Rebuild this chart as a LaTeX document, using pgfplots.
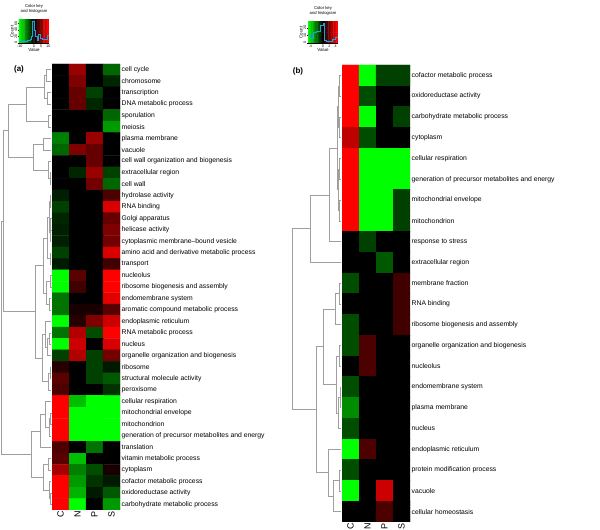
\documentclass[border=0pt]{standalone}
\usepackage{fontspec}
\setmainfont{Liberation Sans}
\usepackage{pgfplots}
\pgfplotsset{compat=1.18}
\pgfplotsset{
  hm/.style={scale only axis, enlargelimits=false,
    axis line style={draw=none}, major tick length=0pt,
    xtick={0,1,2,3}, xticklabels={C,N,P,S},
    xticklabel style={rotate=90, anchor=east, font=\fontsize{9}{9}\selectfont, inner sep=1pt},
    yticklabel pos=right,
    yticklabel style={anchor=west, font=\fontsize{6.8}{7}\selectfont, inner sep=1.5pt},
    colormap={rg}{rgb255=(0,255,0) rgb255=(0,0,0) rgb255=(255,0,0)},
    point meta min=-1, point meta max=1},
  key/.style={scale only axis, axis lines*=left, tick align=outside,
    major tick length=1.2pt, every tick/.style={black, line width=0.3pt},
    axis line style={line width=0.3pt},
    tick label style={font=\fontsize{3.6}{4}\selectfont, inner sep=0.5pt},
    label style={font=\fontsize{4.5}{5}\selectfont, inner sep=0.3pt},
    title style={font=\fontsize{4.2}{4.6}\selectfont, align=center, inner sep=0.5pt},
    /pgf/number format/assume math mode=true,
    colormap={rg}{rgb255=(0,255,0) rgb255=(0,0,0) rgb255=(255,0,0)},
    yticklabel style={rotate=90, anchor=south},
    xlabel shift=0pt, ylabel shift=0pt}
}
\begin{document}
\begin{tikzpicture}
\path[use as bounding box] (0,0) rectangle (600pt,530pt);

% ---------- base axis in pixel units: dendrograms and panel letters
\begin{axis}[at={(0pt,0pt)}, anchor=south west, x=1pt, y=1pt,
  xmin=0, xmax=600, ymin=0, ymax=530, y dir=reverse, hide axis, clip=false,
  unbounded coords=jump]
\addplot[gray!75, line width=0.5pt] coordinates {
(51,69.7)(46,69.7)(46,81.2)(51,81.2) (nan,nan)
(51,92.6)(47,92.6)(47,104.0)(51,104.0) (nan,nan)
(46,75.45)(44,75.45)(44,98.3)(47,98.3) (nan,nan)
(51,115.5)(48,115.5)(48,126.9)(51,126.9) (nan,nan)
(44,86.9)(26,86.9)(26,121.2)(48,121.2) (nan,nan)
(51,138.4)(43,138.4)(43,149.8)(51,149.8) (nan,nan)
(51,172.7)(50,172.7)(50,184.1)(51,184.1) (nan,nan)
(51,161.2)(48,161.2)(48,178.4)(50,178.4) (nan,nan)
(43,144.1)(33,144.1)(33,169.8)(48,169.8) (nan,nan)
(26,104.05)(8,104.05)(8,156.95)(33,156.95) (nan,nan)
(51,195.6)(50,195.6)(50,207.0)(51,207.0) (nan,nan)
(51,218.4)(50.5,218.4)(50.5,229.9)(51,229.9) (nan,nan)
(50.5,224.15)(50,224.15)(50,241.3)(51,241.3) (nan,nan)
(50,201.3)(49,201.3)(49,232.7)(50,232.7) (nan,nan)
(51,252.8)(50,252.8)(50,264.2)(51,264.2) (nan,nan)
(49,217.0)(47,217.0)(47,258.5)(50,258.5) (nan,nan)
(51,275.6)(50.5,275.6)(50.5,287.1)(51,287.1) (nan,nan)
(51,298.5)(49.5,298.5)(49.5,310.0)(51,310.0) (nan,nan)
(50.5,281.35)(46,281.35)(46,304.25)(49.5,304.25) (nan,nan)
(47,237.75)(43,237.75)(43,292.8)(46,292.8) (nan,nan)
(51,332.8)(49.5,332.8)(49.5,344.3)(51,344.3) (nan,nan)
(49.5,338.55)(47,338.55)(47,355.7)(51,355.7) (nan,nan)
(51,321.4)(45.5,321.4)(45.5,347.1)(47,347.1) (nan,nan)
(51,367.2)(50,367.2)(50,378.6)(51,378.6) (nan,nan)
(50,372.9)(48.5,372.9)(48.5,390.0)(51,390.0) (nan,nan)
(45.5,334.25)(42,334.25)(42,381.45)(48.5,381.45) (nan,nan)
(43,265.3)(35,265.3)(35,357.85)(42,357.85) (nan,nan)
(51,412.9)(50.5,412.9)(50.5,424.4)(51,424.4) (nan,nan)
(50.5,418.65)(49.5,418.65)(49.5,435.8)(51,435.8) (nan,nan)
(51,401.5)(45,401.5)(45,427.2)(49.5,427.2) (nan,nan)
(45,414.35)(40,414.35)(40,447.2)(51,447.2) (nan,nan)
(51,458.7)(48,458.7)(48,470.1)(51,470.1) (nan,nan)
(51,493.0)(50.5,493.0)(50.5,504.4)(51,504.4) (nan,nan)
(51,481.6)(49.5,481.6)(49.5,498.7)(50.5,498.7) (nan,nan)
(48,464.4)(43,464.4)(43,490.15)(49.5,490.15) (nan,nan)
(40,430.8)(31,430.8)(31,477.3)(43,477.3) (nan,nan)
(8,130.5)(3,130.5)(3,311.6)(35,311.6) (nan,nan)
(3,221.05)(1.5,221.05)(1.5,454.05)(31,454.05)
};
\addplot[gray!75, line width=0.5pt] coordinates {
(341,75.4)(339.5,75.4)(339.5,96.2)(341,96.2) (nan,nan)
(341,116.9)(339.5,116.9)(339.5,137.7)(341,137.7) (nan,nan)
(339.5,85.8)(338,85.8)(338,127.3)(339.5,127.3) (nan,nan)
(341,158.5)(339.5,158.5)(339.5,179.2)(341,179.2) (nan,nan)
(341,200.0)(339.5,200.0)(339.5,220.8)(341,220.8) (nan,nan)
(339.5,168.85)(338.5,168.85)(338.5,210.4)(339.5,210.4) (nan,nan)
(338,106.55)(337,106.55)(337,189.6)(338.5,189.6) (nan,nan)
(337,148.1)(329,148.1)(329,241.5)(341,241.5) (nan,nan)
(329,194.8)(310,194.8)(310,262.3)(341,262.3) (nan,nan)
(341,283.1)(339,283.1)(339,303.8)(341,303.8) (nan,nan)
(339,293.45)(335,293.45)(335,324.6)(341,324.6) (nan,nan)
(341,345.4)(339.5,345.4)(339.5,366.2)(341,366.2) (nan,nan)
(341,386.9)(340,386.9)(340,407.7)(341,407.7) (nan,nan)
(340,397.3)(338.5,397.3)(338.5,428.5)(341,428.5) (nan,nan)
(339.5,355.8)(336,355.8)(336,412.9)(338.5,412.9) (nan,nan)
(335,309.0)(323,309.0)(323,384.35)(336,384.35) (nan,nan)
(341,470.0)(339.5,470.0)(339.5,490.8)(341,490.8) (nan,nan)
(339.5,480.4)(333,480.4)(333,511.5)(341,511.5) (nan,nan)
(341,449.2)(328,449.2)(328,495.95)(333,495.95) (nan,nan)
(323,346.7)(316,346.7)(316,472.6)(328,472.6) (nan,nan)
(310,228.55)(292,228.55)(292,409.65)(316,409.65)
};
\node[font=\bfseries\fontsize{8}{8}\selectfont] at (axis cs:19,69) {(a)};
\node[font=\bfseries\fontsize{8}{8}\selectfont] at (axis cs:298,71) {(b)};
\end{axis}

% ---------- heatmap (a)
\begin{axis}[hm, at={(52pt,466pt)}, anchor=north west, width=68pt, height=446pt,
  xmin=-0.5, xmax=3.5, ymin=-39.5, ymax=-0.5,
  ytick={-1,-2,...,-39},
  yticklabels={cell cycle, chromosome, transcription, DNA metabolic process, sporulation, meiosis,
  plasma membrane, vacuole, cell wall organization and biogenesis, extracellular region, cell wall,
  hydrolase activity, RNA binding, Golgi apparatus, helicase activity, cytoplasmic membrane–bound vesicle,
  amino acid and derivative metabolic process, transport, nucleolus, ribosome biogenesis and assembly,
  endomembrane system, aromatic compound metabolic process, endoplasmic reticulum, RNA metabolic process,
  nucleus, organelle organization and biogenesis, ribosome, structural molecule activity, peroxisome,
  cellular respiration, mitochondrial envelope, mitochondrion, generation of precursor metabolites and energy,
  translation, vitamin metabolic process, cytoplasm, cofactor metabolic process, oxidoreductase activity,
  carbohydrate metabolic process}]
\addplot[matrix plot*, mesh/cols=4, point meta=explicit, draw=none]
table[row sep=\\, meta=c] {x y c\\
0 -1 0\\ 1 -1 0.6\\ 2 -1 0\\ 3 -1 -0.4\\
0 -2 0\\ 1 -2 0.5\\ 2 -2 0\\ 3 -2 -0.15\\
0 -3 0\\ 1 -3 0.4\\ 2 -3 -0.25\\ 3 -3 0\\
0 -4 0\\ 1 -4 0.4\\ 2 -4 -0.15\\ 3 -4 0\\
0 -5 0\\ 1 -5 0\\ 2 -5 0\\ 3 -5 -0.4\\
0 -6 0\\ 1 -6 0\\ 2 -6 0\\ 3 -6 -0.6\\
0 -7 -0.5\\ 1 -7 0\\ 2 -7 0.6\\ 3 -7 0\\
0 -8 -0.4\\ 1 -8 0.5\\ 2 -8 0.4\\ 3 -8 0\\
0 -9 0\\ 1 -9 0\\ 2 -9 0.4\\ 3 -9 0\\
0 -10 0\\ 1 -10 -0.15\\ 2 -10 0.6\\ 3 -10 -0.25\\
0 -11 0\\ 1 -11 0\\ 2 -11 0.45\\ 3 -11 -0.4\\
0 -12 -0.12\\ 1 -12 0\\ 2 -12 0\\ 3 -12 0.3\\
0 -13 -0.25\\ 1 -13 0\\ 2 -13 0\\ 3 -13 0.85\\
0 -14 -0.15\\ 1 -14 0\\ 2 -14 0\\ 3 -14 0.4\\
0 -15 -0.12\\ 1 -15 0\\ 2 -15 0\\ 3 -15 0.5\\
0 -16 -0.12\\ 1 -16 0\\ 2 -16 0\\ 3 -16 0.45\\
0 -17 -0.25\\ 1 -17 0\\ 2 -17 0\\ 3 -17 0.85\\
0 -18 -0.1\\ 1 -18 0\\ 2 -18 0\\ 3 -18 0.25\\
0 -19 -1\\ 1 -19 0.35\\ 2 -19 0\\ 3 -19 1\\
0 -20 -1\\ 1 -20 0.25\\ 2 -20 0\\ 3 -20 1\\
0 -21 -0.45\\ 1 -21 0\\ 2 -21 0\\ 3 -21 0.9\\
0 -22 -0.45\\ 1 -22 0.1\\ 2 -22 0.1\\ 3 -22 0.35\\
0 -23 -1\\ 1 -23 0.15\\ 2 -23 0.5\\ 3 -23 0.8\\
0 -24 -0.45\\ 1 -24 0.7\\ 2 -24 -0.3\\ 3 -24 1\\
0 -25 -1\\ 1 -25 0.8\\ 2 -25 0\\ 3 -25 0.85\\
0 -26 -0.25\\ 1 -26 0.7\\ 2 -26 -0.25\\ 3 -26 0.45\\
0 -27 0.15\\ 1 -27 0\\ 2 -27 -0.25\\ 3 -27 -0.1\\
0 -28 0.35\\ 1 -28 0\\ 2 -28 -0.25\\ 3 -28 -0.35\\
0 -29 0.3\\ 1 -29 0\\ 2 -29 0\\ 3 -29 -0.2\\
0 -30 1\\ 1 -30 -0.75\\ 2 -30 -1\\ 3 -30 -1\\
0 -31 1\\ 1 -31 -1\\ 2 -31 -1\\ 3 -31 -1\\
0 -32 1\\ 1 -32 -1\\ 2 -32 -1\\ 3 -32 -1\\
0 -33 1\\ 1 -33 -1\\ 2 -33 -1\\ 3 -33 -1\\
0 -34 0.3\\ 1 -34 0\\ 2 -34 -0.45\\ 3 -34 0\\
0 -35 0.35\\ 1 -35 -0.75\\ 2 -35 0\\ 3 -35 0\\
0 -36 0.65\\ 1 -36 -0.5\\ 2 -36 -0.3\\ 3 -36 0.1\\
0 -37 1\\ 1 -37 -0.6\\ 2 -37 -0.2\\ 3 -37 -0.1\\
0 -38 1\\ 1 -38 -0.7\\ 2 -38 -0.1\\ 3 -38 -0.35\\
0 -39 1\\ 1 -39 -1\\ 2 -39 0\\ 3 -39 -0.6\\
};
\end{axis}

% ---------- heatmap (b)
\begin{axis}[hm, at={(342pt,465pt)}, anchor=north west, width=68pt, height=457pt,
  xmin=-0.5, xmax=3.5, ymin=-22.5, ymax=-0.5,
  ytick={-1,-2,...,-22},
  yticklabels={cofactor metabolic process, oxidoreductase activity, carbohydrate metabolic process,
  cytoplasm, cellular respiration, generation of precursor metabolites and energy, mitochondrial envelope,
  mitochondrion, response to stress, extracellular region, membrane fraction, RNA binding,
  ribosome biogenesis and assembly, organelle organization and biogenesis, nucleolus, endomembrane system,
  plasma membrane, nucleus, endoplasmic reticulum, protein modification process, vacuole, cellular homeostasis}]
\addplot[matrix plot*, mesh/cols=4, point meta=explicit, draw=none]
table[row sep=\\, meta=c] {x y c\\
0 -1 1\\ 1 -1 -1\\ 2 -1 -0.25\\ 3 -1 -0.25\\
0 -2 1\\ 1 -2 -0.3\\ 2 -2 0\\ 3 -2 0\\
0 -3 1\\ 1 -3 -1\\ 2 -3 0\\ 3 -3 -0.25\\
0 -4 0.75\\ 1 -4 -0.3\\ 2 -4 0\\ 3 -4 0\\
0 -5 1\\ 1 -5 -1\\ 2 -5 -1\\ 3 -5 -1\\
0 -6 1\\ 1 -6 -1\\ 2 -6 -1\\ 3 -6 -1\\
0 -7 1\\ 1 -7 -1\\ 2 -7 -1\\ 3 -7 -0.25\\
0 -8 1\\ 1 -8 -1\\ 2 -8 -1\\ 3 -8 -0.25\\
0 -9 0\\ 1 -9 -0.25\\ 2 -9 0\\ 3 -9 0\\
0 -10 0\\ 1 -10 0\\ 2 -10 -0.35\\ 3 -10 0\\
0 -11 -0.3\\ 1 -11 0\\ 2 -11 0\\ 3 -11 0.25\\
0 -12 0\\ 1 -12 0\\ 2 -12 0\\ 3 -12 0.25\\
0 -13 -0.3\\ 1 -13 0\\ 2 -13 0\\ 3 -13 0.25\\
0 -14 -0.3\\ 1 -14 0.3\\ 2 -14 0\\ 3 -14 0\\
0 -15 0\\ 1 -15 0.3\\ 2 -15 0\\ 3 -15 0\\
0 -16 -0.3\\ 1 -16 0\\ 2 -16 0\\ 3 -16 0\\
0 -17 -0.55\\ 1 -17 0\\ 2 -17 0\\ 3 -17 0\\
0 -18 -0.3\\ 1 -18 0\\ 2 -18 0\\ 3 -18 0\\
0 -19 -1\\ 1 -19 0.3\\ 2 -19 0\\ 3 -19 0\\
0 -20 -0.3\\ 1 -20 0\\ 2 -20 0\\ 3 -20 0\\
0 -21 -1\\ 1 -21 0\\ 2 -21 0.8\\ 3 -21 0\\
0 -22 0\\ 1 -22 0\\ 2 -22 0.3\\ 3 -22 0\\
};
\end{axis}

% ---------- colour key (a)
\begin{axis}[key, at={(19pt,487pt)}, anchor=south west, width=30pt, height=23pt,
  xmin=-10.5, xmax=10.5, ymin=0, ymax=70,
  xtick={-10,0,5,10}, xticklabels={-10,0,5,10}, ytick={0,20,40,60},
  xlabel={Value}, ylabel={Count}, title={Color key\\and histogram},
  point meta min=-10, point meta max=10]
\addplot[matrix plot*, mesh/cols=21, point meta=x, draw=none] coordinates {
(-10,0)(-9,0)(-8,0)(-7,0)(-6,0)(-5,0)(-4,0)(-3,0)(-2,0)(-1,0)(0,0)(1,0)(2,0)(3,0)(4,0)(5,0)(6,0)(7,0)(8,0)(9,0)(10,0)
(-10,70)(-9,70)(-8,70)(-7,70)(-6,70)(-5,70)(-4,70)(-3,70)(-2,70)(-1,70)(0,70)(1,70)(2,70)(3,70)(4,70)(5,70)(6,70)(7,70)(8,70)(9,70)(10,70)};
\addplot[cyan!80!teal, line width=0.4pt, const plot] coordinates {
(-10.5,4)(-8,4)(-8,6)(-5,6)(-5,8)(-3,8)(-3,12)(-2,12)(-2,22)(-1,22)(-1,66)(0,66)(0,40)(1,40)(1,22)(2,22)(2,10)(3,10)(3,26)(4,26)(4,14)(6,14)(6,12)(9,12)(9,24)(10.5,24)};
\end{axis}

% ---------- colour key (b)
\begin{axis}[key, at={(308pt,487pt)}, anchor=south west, width=30pt, height=21pt,
  xmin=-4.75, xmax=4.75, ymin=0, ymax=28,
  xtick={-4,0,2,4}, xticklabels={-4,0,2,4}, ytick={0,10,20},
  xlabel={Value}, ylabel={Count}, title={Color key\\and histogram},
  point meta min=-4.5, point meta max=4.5]
\addplot[matrix plot*, mesh/cols=19, point meta=x, draw=none] coordinates {
(-4.5,0)(-4,0)(-3.5,0)(-3,0)(-2.5,0)(-2,0)(-1.5,0)(-1,0)(-0.5,0)(0,0)(0.5,0)(1,0)(1.5,0)(2,0)(2.5,0)(3,0)(3.5,0)(4,0)(4.5,0)
(-4.5,28)(-4,28)(-3.5,28)(-3,28)(-2.5,28)(-2,28)(-1.5,28)(-1,28)(-0.5,28)(0,28)(0.5,28)(1,28)(1.5,28)(2,28)(2.5,28)(3,28)(3.5,28)(4,28)(4.5,28)};
\addplot[cyan!80!teal, line width=0.4pt, const plot] coordinates {
(-4.75,12)(-4,12)(-4,6)(-3,6)(-3,14)(-2,14)(-2,16)(-1,16)(-1,24)(0,24)(0,26)(0.5,26)(0.5,4)(1,4)(1,2)(2,2)(2,3)(3,3)(3,5)(4,5)(4,8)(4.75,8)};
\end{axis}
\end{tikzpicture}
\end{document}
